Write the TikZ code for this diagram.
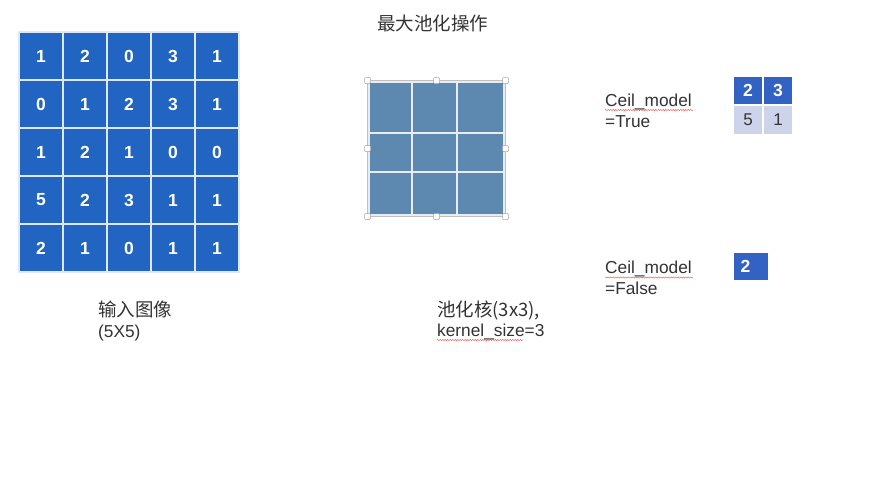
\documentclass[tikz,border=0pt]{standalone}
\usepackage{fontspec}
\setmainfont{Liberation Sans}
\newfontfamily\cjk{Noto Sans CJK SC}
\usetikzlibrary{decorations.pathmorphing}
\definecolor{gridblue}{HTML}{2164C2}
\definecolor{kernblue}{HTML}{5D88AF}
\definecolor{outblue}{HTML}{3263C4}
\definecolor{outlight}{HTML}{CDD3EA}
\definecolor{txt}{HTML}{333333}
\tikzset{
  cellA/.style={fill=gridblue, draw=white!85!gridblue, line width=1.2pt, minimum width=44pt, minimum height=48pt, inner sep=0pt, text=white, font=\fontsize{17.5}{19}\selectfont\bfseries},
  kcell/.style={fill=kernblue, draw=white!85!kernblue, line width=1.2pt, inner sep=0pt},
  ocellTop/.style={fill=outblue, draw=white, line width=1.2pt, inner sep=0pt, text=white, font=\fontsize{17.5}{19}\selectfont\bfseries},
  ocellBot/.style={fill=outlight, draw=white, line width=1.2pt, inner sep=0pt, text=txt, font=\fontsize{17}{19}\selectfont},
  lbl/.style={anchor=base west, inner sep=0pt, text=txt, font=\fontsize{17.3}{20}\selectfont},
  cjklbl/.style={anchor=base west, inner sep=0pt, text=txt, font=\cjk\fontsize{18.5}{20}\selectfont},
  handle/.style={draw=gray!70, fill=white, line width=0.5pt, minimum size=6pt, inner sep=0pt, rounded corners=1pt},
  squiggle/.style={draw=red!75, line width=0.45pt, decorate, decoration={snake, amplitude=0.6pt, segment length=2.5pt}}
}
\begin{document}
\begin{tikzpicture}[x=1pt,y=-1pt]
\useasboundingbox[fill=white] (0,0) rectangle (876,493);
% title
\node[cjklbl] (title) at (377,30) {最大池化操作};
% input grid
\foreach \row [count=\r from 0] in {{1,2,0,3,1},{0,1,2,3,1},{1,2,1,0,0},{5,2,3,1,1},{2,1,0,1,1}} {
  \foreach \v [count=\c from 0] in \row {
    \node[cellA] (in-\r-\c) at ({19+44*\c+22},{32+48*\r+24}) {\v};
  }
}
\node[cjklbl] (inlbl) at (98,316) {输入图像};
\node[lbl] (insize) at (98,337) {(5X5)};
% kernel
\foreach \xa/\xb [count=\c from 0] in {369/412,412/457,457/504} {
  \foreach \ya/\yb [count=\r from 0] in {82/133,133/172,172/215} {
    \node[kcell, minimum width={(\xb-\xa)*1pt}, minimum height={(\yb-\ya)*1pt}] (k-\r-\c) at ({(\xa+\xb)/2},{(\ya+\yb)/2}) {};
  }
}
\coordinate (kNW) at (367.5,80.5);
\coordinate (kSE) at (505.5,216.5);
\draw[gray!50, line width=0.6pt] (kNW) rectangle (kSE);
\foreach \hx/\hy [count=\i] in {367.5/80.5,436.5/80.5,505.5/80.5,367.5/148.5,505.5/148.5,367.5/216.5,436.5/216.5,505.5/216.5} {
  \node[handle] (h\i) at (\hx,\hy) {};
}
\node[cjklbl] (klbl) at (437,316) {池化核(3x3),};
\node[lbl] (ksize) at (437,336) {kernel\_size=3};
\draw[squiggle] (437,340) -- (523,340);
% ceil true
\node[lbl] (ct1) at (605,106) {Ceil\_model};
\draw[squiggle] (605,110) -- (693,110);
\node[lbl] (ct2) at (605,127.5) {=True};
\node[ocellTop, minimum width=30pt, minimum height=29pt] (o00) at (748,90.5) {2};
\node[ocellTop, minimum width=30pt, minimum height=29pt] (o01) at (778,90.5) {3};
\node[ocellBot, minimum width=30pt, minimum height=30pt] (o10) at (748,120) {5};
\node[ocellBot, minimum width=30pt, minimum height=30pt] (o11) at (778,120) {1};
% ceil false
\node[lbl] (cf1) at (605,273.5) {Ceil\_model};
\draw[squiggle] (605,277.5) -- (693,277.5);
\node[lbl] (cf2) at (605,294.5) {=False};
\node[ocellTop, minimum width=36pt, minimum height=29pt] (f00) at (751,266.5) {};
\node[inner sep=0pt, text=white, font=\fontsize{17.5}{19}\selectfont\bfseries] (f00t) at (745.5,266.5) {2};
\end{tikzpicture}
\end{document}
